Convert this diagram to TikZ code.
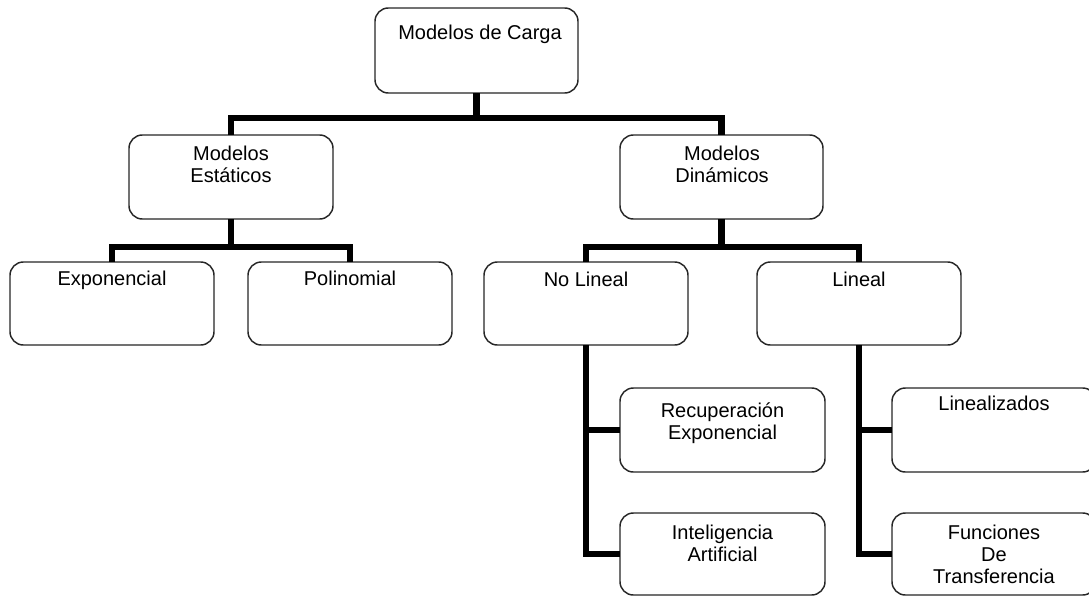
\documentclass[tikz,border=0pt]{standalone}
\usepackage{fontspec}
\setmainfont{Liberation Sans}
\newcommand\tstrut{\rule{0pt}{15pt}}
\tikzset{
  box/.style={draw=black!85, line width=1.1pt, rounded corners=10pt, inner sep=0pt, outer sep=0pt, fill=white},
  lbl/.style={anchor=north, inner sep=0pt, align=center, font=\fontsize{15pt}{16.5pt}\selectfont},
  conn/.style={line width=4.9pt, black}
}
\begin{document}
\begin{tikzpicture}[x=0.75pt, y=-0.75pt]
\useasboundingbox (0,0) rectangle (1089,596);
\clip (0,0) rectangle (1089,596);
% connectors first
\coordinate (t1) at (0,118);
\coordinate (t2) at (0,247);
% boxes
\node[box, minimum width=152.25pt, minimum height=63.75pt] (A) at (476.5,50.5) {};
\node[box, minimum width=153pt, minimum height=63pt] (B) at (231,177) {};
\node[box, minimum width=152.25pt, minimum height=63pt] (C) at (721.5,177) {};
\node[box, minimum width=153pt, minimum height=62.25pt] (D) at (112,303.5) {};
\node[box, minimum width=153pt, minimum height=62.25pt] (E) at (350,303.5) {};
\node[box, minimum width=153pt, minimum height=62.25pt] (F) at (586,303.5) {};
\node[box, minimum width=153pt, minimum height=62.25pt] (G) at (859,303.5) {};
\node[box, minimum width=153.75pt, minimum height=63pt] (H) at (722.5,430) {};
\node[box, minimum width=153pt, minimum height=63pt] (I) at (994,430) {};
\node[box, minimum width=153.75pt, minimum height=61.5pt] (J) at (722.5,554) {};
\node[box, minimum width=153pt, minimum height=61.5pt] (K) at (994,554) {};
% labels
\node[lbl] (At) at (480,19.2) {\tstrut Modelos de Carga};
\node[lbl] (Bt) at (231,140.2) {\tstrut Modelos\\Estáticos};
\node[lbl] (Ct) at (722,140.2) {\tstrut Modelos\\Dinámicos};
\node[lbl] (Dt) at (112,265.2) {\tstrut Exponencial};
\node[lbl] (Et) at (350,265.2) {\tstrut Polinomial};
\node[lbl] (Ft) at (586,266.2) {\tstrut No Lineal};
\node[lbl] (Gt) at (859,266.2) {\tstrut Lineal};
\node[lbl] (Ht) at (722.5,397.2) {\tstrut Recuperación\\Exponencial};
\node[lbl] (It) at (994,390.2) {\tstrut Linealizados};
\node[lbl] (Jt) at (722.5,519.2) {\tstrut Inteligencia\\Artificial};
\node[lbl] (Kt) at (994,519.2) {\tstrut Funciones\\De\\Transferencia};
% connectors
\draw[conn] (A.south) -- (A.south |- t1);
\draw[conn] (B.north) -- (B.north |- t1) -- (C.north |- t1) -- (C.north);
\draw[conn] (B.south) -- (B.south |- t2);
\draw[conn] (D.north) -- (D.north |- t2) -- (E.north |- t2) -- (E.north);
\draw[conn] (C.south) -- (C.south |- t2);
\draw[conn] (F.north) -- (F.north |- t2) -- (G.north |- t2) -- (G.north);
\draw[conn] (F.south) |- (H.west);
\draw[conn] (F.south) |- (J.west);
\draw[conn] (G.south) |- (I.west);
\draw[conn] (G.south) |- (K.west);
\end{tikzpicture}
\end{document}
